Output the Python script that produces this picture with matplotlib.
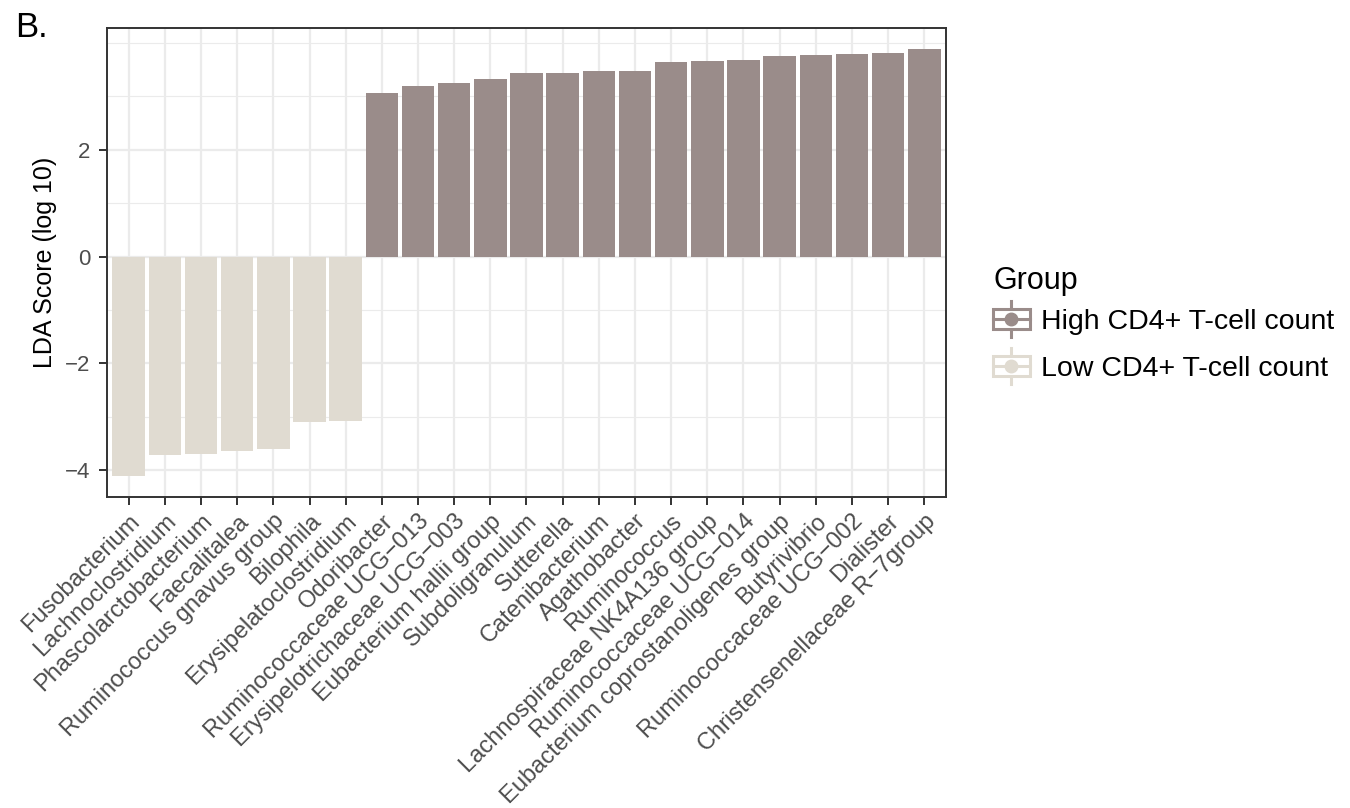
import matplotlib.pyplot as plt
from matplotlib.lines import Line2D
from matplotlib.patches import Patch, Rectangle
from matplotlib.legend_handler import HandlerBase
from matplotlib.ticker import FixedLocator

plt.rcParams['font.family'] = ['Liberation Sans', 'DejaVu Sans']

taxa = [
    "Fusobacterium", "Lachnoclostridium", "Phascolarctobacterium", "Faecalitalea",
    "Ruminococcus gnavus group", "Bilophila", "Erysipelatoclostridium",
    "Odoribacter", "Ruminococcaceae UCG\u2212013", "Erysipelotrichaceae UCG\u2212003",
    "Eubacterium hallii group", "Subdoligranulum", "Sutterella", "Catenibacterium",
    "Agathobacter", "Ruminococcus", "Lachnospiraceae NK4A136 group",
    "Ruminococcaceae UCG\u2212014", "Eubacterium coprostanoligenes group",
    "Butyrivibrio", "Ruminococcaceae UCG\u2212002", "Dialister",
    "Christensenellaceae R\u22127group",
]
lda = [
    -4.10, -3.71, -3.69, -3.64, -3.60, -3.09, -3.07,
    3.07, 3.19, 3.25, 3.32, 3.43, 3.43, 3.47, 3.47, 3.64, 3.66, 3.68,
    3.75, 3.77, 3.79, 3.81, 3.88,
]
y_breaks = [-4, -2, 0, 2]
y_minor = [-3, -1, 1, 3, 4]
groups = ["High CD4+ T-cell count", "Low CD4+ T-cell count"]
group_colors = {"High CD4+ T-cell count": "#9a8c8a", "Low CD4+ T-cell count": "#e0dbd1"}

bar_groups = [groups[0] if v > 0 else groups[1] for v in lda]


class CrossbarKey(HandlerBase):
    """Legend key: outlined box with a middle line, a vertical whisker and a dot."""

    def create_artists(self, legend, orig_handle, xdescent, ydescent,
                       width, height, fontsize, trans):
        c = orig_handle.get_facecolor()
        x0, y0 = -xdescent, -ydescent
        cx, cy = x0 + width / 2, y0 + height / 2
        vline = Line2D([cx, cx], [y0 - 2, y0 + height + 2], color=c, lw=2.2)
        box = Rectangle((x0, cy - height * 0.32), width, height * 0.64,
                        facecolor="white", edgecolor=c, lw=2.2)
        hline = Line2D([x0, x0 + width], [cy, cy], color=c, lw=2.2)
        dot = Line2D([cx], [cy], marker="o", markersize=9, color=c, linestyle="none")
        arts = [vline, box, hline, dot]
        for a in arts:
            a.set_transform(trans)
        return arts


fig = plt.figure(figsize=(13.5, 8.08), dpi=100)
ax = fig.add_axes([0.0793, 0.3849, 0.6214, 0.5804])

x = list(range(len(taxa)))
ax.bar(x, lda, width=0.9, color=[group_colors[g] for g in bar_groups], zorder=2)

ax.set_xlim(-0.6, len(taxa) - 0.4)
ax.set_ylim(-4.5, 4.28)
ax.yaxis.set_major_locator(FixedLocator(y_breaks))
ax.yaxis.set_minor_locator(FixedLocator(y_minor))
ax.set_yticklabels([str(t).replace("-", "\u2212") for t in y_breaks])
ax.set_xticks(x)
ax.set_xticklabels(taxa, rotation=45, ha="right", rotation_mode="anchor",
                   fontsize=17, color="#4d4d4d")
ax.tick_params(axis="y", labelsize=16, labelcolor="#4d4d4d", pad=6.5)
ax.tick_params(axis="both", which="major", length=5.5, width=1.4, color="#333333")
ax.tick_params(axis="x", pad=4)
ax.tick_params(axis="y", which="minor", length=0)

ax.grid(True, which="major", color="#ebebeb", linewidth=1.6, zorder=0)
ax.grid(True, which="minor", axis="y", color="#ebebeb", linewidth=0.8, zorder=0)
ax.set_axisbelow(True)
for s in ax.spines.values():
    s.set_color("#333333")
    s.set_linewidth(1.4)

ax.set_ylabel("LDA Score (log 10)", fontsize=18, labelpad=6)

fig.text(0.011, 0.987, "B.", fontsize=25, va="top", ha="left")

# legend title drawn on its own so the gap to the keys can be set freely
fig.text(0.7356, 0.6423, "Group", fontsize=22, va="baseline", ha="left")
handles = [Patch(facecolor=group_colors[g]) for g in groups]
leg = fig.legend(handles, groups, loc="upper left",
                 bbox_to_anchor=(0.7352, 0.6244), frameon=False, fontsize=20.5,
                 handler_map={Patch: CrossbarKey()},
                 handlelength=1.3, handleheight=1.3, handletextpad=0.4,
                 labelspacing=0.56, borderaxespad=0, borderpad=0)

fig.savefig("out.png", dpi=100)
